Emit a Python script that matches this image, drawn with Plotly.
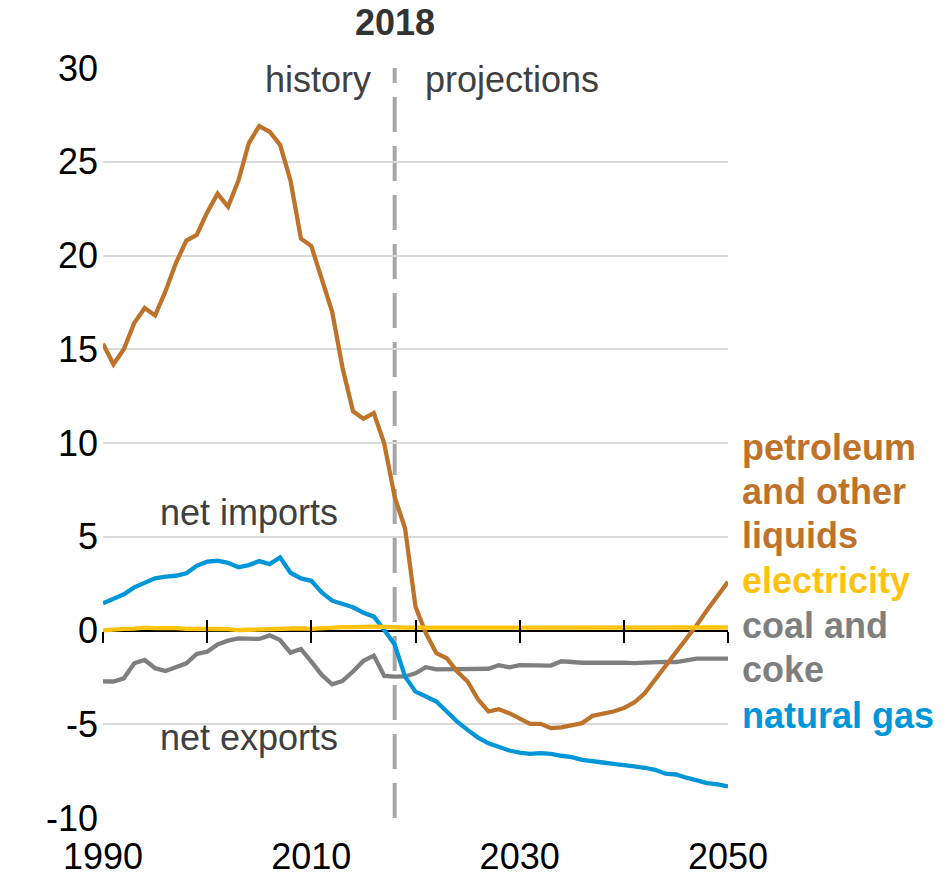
import plotly.graph_objects as go

years = list(range(1990, 2051))

petroleum = [15.3, 14.2, 15.0, 16.4, 17.2, 16.8, 18.1, 19.6, 20.8, 21.1,
             22.3, 23.3, 22.6, 24.0, 26.0, 26.9, 26.6, 25.9, 24.0, 20.9,
             20.5, 18.7, 17.0, 14.0, 11.7, 11.3, 11.6, 9.97, 7.13, 5.44,
             1.27, -0.15, -1.21, -1.48, -2.19, -2.72, -3.67, -4.32, -4.20, -4.41,
             -4.71, -4.98, -4.98, -5.21, -5.17, -5.03, -4.94, -4.55, -4.45, -4.32,
             -4.14, -3.84, -3.35, -2.64, -1.93, -1.13, -0.51, 0.29, 1.09, 1.89,
             2.60]

natural_gas = [1.45, 1.66, 1.93, 2.30, 2.57, 2.78, 2.87, 2.92, 3.05, 3.45,
               3.67, 3.72, 3.61, 3.37, 3.49, 3.70, 3.54, 3.90, 3.08, 2.78,
               2.65, 2.03, 1.59, 1.40, 1.24, 0.95, 0.74, 0.03, -0.75, -2.46,
               -3.26, -3.52, -3.79, -4.32, -4.86, -5.30, -5.71, -6.01, -6.19, -6.40,
               -6.51, -6.58, -6.54, -6.58, -6.68, -6.75, -6.90, -6.99, -7.04, -7.11,
               -7.20, -7.25, -7.32, -7.43, -7.64, -7.68, -7.85, -8.01, -8.14, -8.21,
               -8.32]

coal_coke = [-2.71, -2.72, -2.55, -1.75, -1.57, -2.01, -2.16, -1.98, -1.75, -1.25,
             -1.13, -0.74, -0.54, -0.42, -0.42, -0.45, -0.26, -0.51, -1.18, -0.99,
             -1.66, -2.37, -2.87, -2.69, -2.19, -1.62, -1.34, -2.42, -2.46, -2.45,
             -2.28, -1.96, -2.07, -2.07, -2.07, -2.04, -2.07, -2.04, -1.85, -1.96,
             -1.85, -1.85, -1.87, -1.87, -1.64, -1.69, -1.72, -1.72, -1.74, -1.72,
             -1.71, -1.74, -1.71, -1.67, -1.67, -1.69, -1.57, -1.50, -1.50, -1.50,
             -1.50]

electricity = [0.01, 0.07, 0.09, 0.10, 0.15, 0.13, 0.14, 0.13, 0.09, 0.10,
               0.10, 0.08, 0.07, 0.02, 0.04, 0.06, 0.06, 0.11, 0.11, 0.12,
               0.09, 0.13, 0.16, 0.18, 0.18, 0.21, 0.21, 0.19, 0.15, 0.15,
               0.15, 0.15, 0.15, 0.15, 0.15, 0.15, 0.16, 0.16, 0.17, 0.18,
               0.18, 0.19, 0.19, 0.19, 0.19, 0.19, 0.19, 0.19, 0.19, 0.19,
               0.19, 0.19, 0.19, 0.19, 0.17, 0.16, 0.16, 0.16, 0.16, 0.16,
               0.16]

y_ticks = [-10, -5, 0, 5, 10, 15, 20, 25, 30]
y_tick_text = ["-10", "-5", "0", "5", "10", "15", "20", "25", "30"]
x_label_ticks = [1990, 2010, 2030, 2050]
x_mark_ticks = [1990, 2000, 2010, 2020, 2030, 2040, 2050]
divider_year = 2018

C_PET = "#BD732A"
C_ELEC = "#FFC20E"
C_COAL = "#7F7F7F"
C_GAS = "#0096D7"
TXT = "#404040"
FONT = "Liberation Sans, Arial, sans-serif"

fig = go.Figure()
for name, vals, col in [("coal and coke", coal_coke, C_COAL),
                        ("natural gas", natural_gas, C_GAS),
                        ("petroleum and other liquids", petroleum, C_PET),
                        ("electricity", electricity, C_ELEC)]:
    fig.add_trace(go.Scatter(x=years, y=vals, mode="lines", name=name,
                             line=dict(color=col, width=4.3), showlegend=False,
                             hoverinfo="x+y"))

# invisible traces to bind tick-mark axes
for ax in ["x2", "x3"]:
    fig.add_trace(go.Scatter(x=[years[0]], y=[0], xaxis=ax, yaxis="y", mode="lines",
                             line=dict(width=0), showlegend=False, hoverinfo="skip"))

fig.add_shape(type="line", xref="x", yref="y", x0=divider_year, x1=divider_year,
              y0=y_ticks[0], y1=y_ticks[-1],
              line=dict(color="#A6A6A6", width=4, dash="35px,14px"), layer="below")

ann = []
def add(text, x, y, color=TXT, bold=False, xanchor="center", xref="x", yref="y", xshift=0):
    t = f"<b>{text}</b>" if bold else text
    ann.append(dict(text=t, x=x, y=y, xref=xref, yref=yref, xanchor=xanchor,
                    yanchor="middle", showarrow=False, xshift=xshift,
                    font=dict(family=FONT, size=36, color=color)))

add("2018", divider_year, 1.061, color="#333333", bold=True, yref="paper")
add("history", divider_year, 29.4, xanchor="right", xshift=-22)
add("projections", divider_year, 29.4, xanchor="left", xshift=28)
add("net imports", 2004, 6.3)
add("net exports", 2004, -5.7)

lab_x = 1.019
add("petroleum", lab_x, 9.77, C_PET, True, "left", xref="paper")
add("and other", lab_x, 7.4, C_PET, True, "left", xref="paper")
add("liquids", lab_x, 5.09, C_PET, True, "left", xref="paper")
add("electricity", lab_x, 2.69, C_ELEC, True, "left", xref="paper")
add("coal and", lab_x, 0.29, C_COAL, True, "left", xref="paper")
add("coke", lab_x, -2.1, C_COAL, True, "left", xref="paper")
add("natural gas", lab_x, -4.55, C_GAS, True, "left", xref="paper")

tickaxis = dict(overlaying="x", anchor="free", position=0.25, range=[1990, 2050],
                tickvals=x_mark_ticks, ticklen=11, tickwidth=2, tickcolor="black",
                showticklabels=False, showgrid=False, zeroline=False, showline=False,
                automargin=False)

fig.update_layout(
    width=943, height=881,
    margin=dict(l=103, r=215, t=68, b=63, autoexpand=False),
    paper_bgcolor="white", plot_bgcolor="white",
    font=dict(family=FONT, size=36, color="black"),
    annotations=ann,
    xaxis=dict(range=[1990, 2050], tickvals=x_label_ticks, ticks="", showgrid=False,
               zeroline=False, showline=False, ticklabelstandoff=14, automargin=False,
               tickfont=dict(family=FONT, size=36, color="black")),
    xaxis2=dict(ticks="outside", **tickaxis),
    xaxis3=dict(ticks="inside", **tickaxis),
    yaxis=dict(range=[-10, 30], tickvals=y_ticks, ticktext=y_tick_text, showgrid=True,
               gridcolor="#D9D9D9", gridwidth=2, zeroline=True, zerolinecolor="black",
               zerolinewidth=2, showline=False, ticks="", ticklabelstandoff=4,
               automargin=False,
               tickfont=dict(family=FONT, size=36, color="black")),
    hovermode=False,
)

fig.write_html("out.html", config={"displayModeBar": False},
               post_script="document.body.style.margin='0px';document.body.style.overflow='hidden';")
